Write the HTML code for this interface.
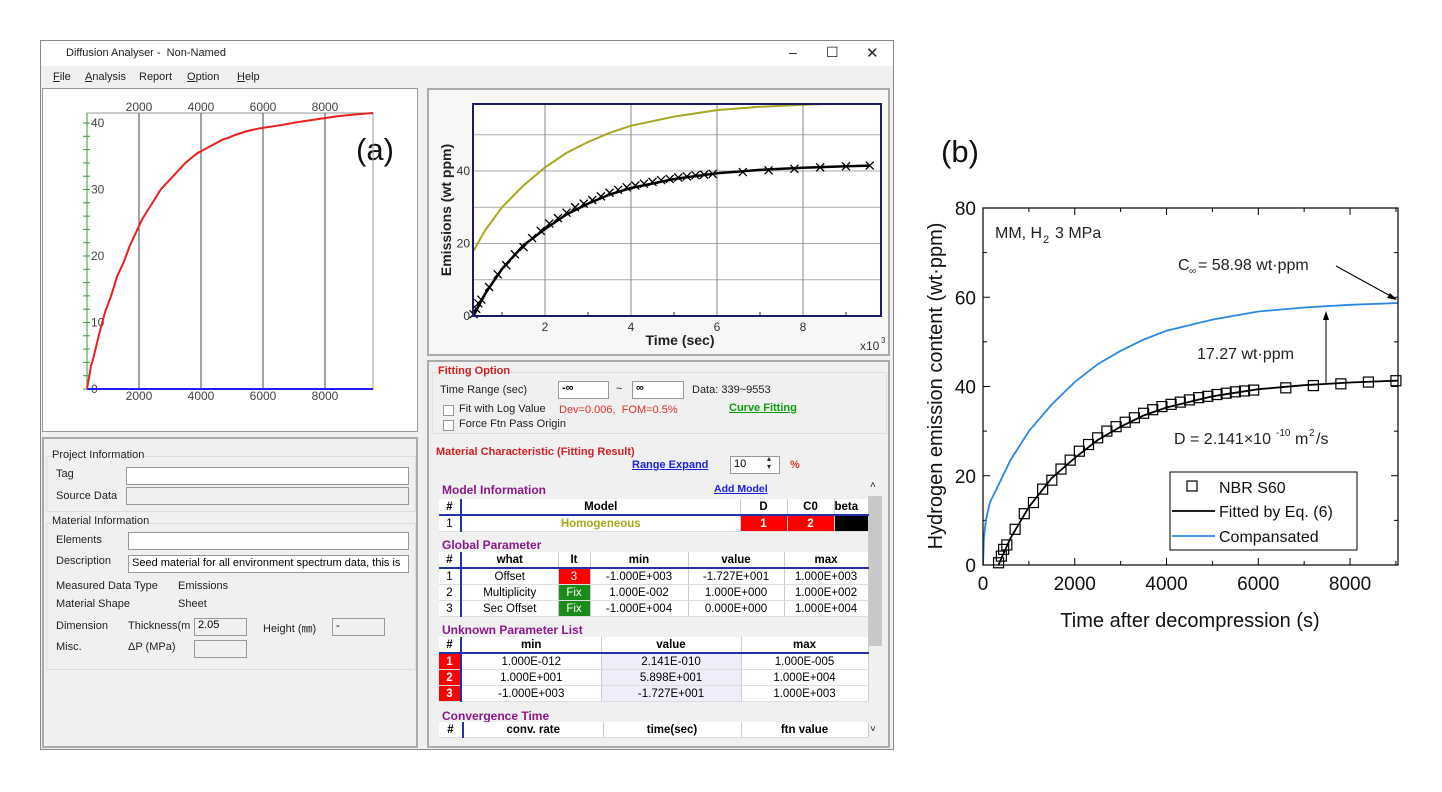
<!DOCTYPE html>
<html><head><meta charset="utf-8">
<style>
body{margin:0;width:1442px;height:792px;background:#fff;position:relative;overflow:hidden;font-family:"Liberation Sans",Arial,sans-serif;}
.a{position:absolute;}
.t{position:absolute;font-size:11px;color:#222;white-space:nowrap;}
.inp{position:absolute;background:#fff;border:1px solid #999;box-sizing:border-box;font-size:11px;padding:1px 3px;}
.gi{background:#f0f0f0;}
.grp{position:absolute;border:1px solid #ddd;box-sizing:border-box;}
table{border-collapse:collapse;position:absolute;font-size:11.5px;table-layout:fixed;}
td{padding:0;text-align:center;height:15px;border-right:1px solid #ccc;border-bottom:1px solid #ddd;background:#fff;}
.hd td{font-weight:bold;border-bottom:2px solid #2233aa;}
.sec{position:absolute;font-weight:bold;font-size:12px;color:#8a1a8a;}
</style></head><body>
<div class="a" style="left:40px;top:40px;width:854px;height:710px;border:1px solid #888;box-sizing:border-box;background:#f0f0f0;"></div>
<div class="a" style="left:41px;top:41px;width:852px;height:25px;background:#fff;"></div>
<div class="t" style="left:66px;top:47px;font-size:11px;">Diffusion Analyser -&nbsp; Non-Named</div>
<div class="t" style="left:789px;top:44px;font-size:14px;">–</div>
<div class="t" style="left:826px;top:44px;font-size:14px;">☐</div>
<div class="t" style="left:866px;top:44px;font-size:15px;">✕</div>
<div class="t" style="left:53px;top:71px;"><u>F</u>ile</div>
<div class="t" style="left:85px;top:71px;"><u>A</u>nalysis</div>
<div class="t" style="left:139px;top:71px;">Report</div>
<div class="t" style="left:187px;top:71px;"><u>O</u>ption</div>
<div class="t" style="left:237px;top:71px;"><u>H</u>elp</div>

<div class="a" style="left:42px;top:88px;width:376px;height:344px;background:#fff;border:1px solid #999;box-sizing:border-box;"></div>
<div class="a" style="left:427px;top:88px;width:463px;height:268px;background:#f7f7f7;border:2px solid #aaa;box-sizing:border-box;"></div>
<div class="a" style="left:42px;top:437px;width:376px;height:311px;border:2px solid #aaa;box-sizing:border-box;"></div>
<div class="a" style="left:427px;top:360px;width:463px;height:388px;border:2px solid #aaa;box-sizing:border-box;"></div>

<div class="grp" style="left:46px;top:456px;width:370px;height:56px;"></div>
<div class="t" style="left:52px;top:449px;background:#f0f0f0;">Project Information</div>
<div class="t" style="left:56px;top:468px;">Tag</div>
<div class="inp" style="left:126px;top:467px;width:283px;height:18px;"></div>
<div class="t" style="left:56px;top:490px;">Source Data</div>
<div class="inp gi" style="left:126px;top:487px;width:283px;height:18px;"></div>
<div class="grp" style="left:46px;top:523px;width:370px;height:147px;"></div>
<div class="t" style="left:52px;top:515px;background:#f0f0f0;">Material Information</div>
<div class="t" style="left:56px;top:534px;">Elements</div>
<div class="inp" style="left:128px;top:532px;width:281px;height:18px;"></div>
<div class="t" style="left:56px;top:555px;">Description</div>
<div class="inp" style="left:128px;top:555px;width:281px;height:18px;overflow:hidden;white-space:nowrap;">Seed material for all environment spectrum data, this is</div>
<div class="t" style="left:56px;top:580px;">Measured Data Type</div>
<div class="t" style="left:178px;top:580px;">Emissions</div>
<div class="t" style="left:56px;top:598px;">Material Shape</div>
<div class="t" style="left:178px;top:598px;">Sheet</div>
<div class="t" style="left:56px;top:620px;">Dimension</div>
<div class="t" style="left:128px;top:620px;">Thickness(m</div>
<div class="inp gi" style="left:194px;top:618px;width:53px;height:18px;padding-top:0;">2.05</div>
<div class="t" style="left:263px;top:620px;">Height (㎜)</div>
<div class="inp gi" style="left:332px;top:618px;width:53px;height:18px;">-</div>
<div class="t" style="left:56px;top:641px;">Misc.</div>
<div class="t" style="left:128px;top:641px;">ΔP (MPa)</div>
<div class="inp gi" style="left:194px;top:640px;width:53px;height:18px;"></div>

<div class="grp" style="left:432px;top:372px;width:455px;height:62px;"></div>
<div class="t" style="left:438px;top:365px;font-weight:bold;color:#d02020;background:#f0f0f0;">Fitting Option</div>
<div class="t" style="left:440px;top:384px;">Time Range (sec)</div>
<div class="inp" style="left:558px;top:381px;width:51px;height:18px;font-weight:bold;line-height:10px;">-∞</div>
<div class="t" style="left:616px;top:383px;">~</div>
<div class="inp" style="left:632px;top:381px;width:52px;height:18px;font-weight:bold;line-height:10px;">∞</div>
<div class="t" style="left:692px;top:384px;">Data: 339~9553</div>
<div class="inp" style="left:443px;top:405px;width:11px;height:11px;padding:0;"></div>
<div class="t" style="left:459px;top:403px;">Fit with Log Value</div>
<div class="t" style="left:559px;top:404px;color:#e03030;">Dev=0.006,&nbsp; FOM=0.5%</div>
<div class="t" style="left:729px;top:402px;color:#139a13;font-weight:bold;text-decoration:underline;">Curve Fitting</div>
<div class="inp" style="left:443px;top:420px;width:11px;height:11px;padding:0;"></div>
<div class="t" style="left:459px;top:418px;">Force Ftn Pass Origin</div>
<div class="t" style="left:436px;top:446px;font-weight:bold;color:#d02020;">Material Characteristic (Fitting Result)</div>
<div class="t" style="left:632px;top:459px;color:#2020e0;font-weight:bold;text-decoration:underline;">Range Expand</div>
<div class="inp" style="left:730px;top:456px;width:50px;height:18px;">10</div>
<div class="t" style="left:767px;top:455px;font-size:8px;line-height:8px;">▴<br>▾</div>
<div class="t" style="left:790px;top:459px;color:#e03030;font-weight:bold;">%</div>
<div class="a" style="left:868px;top:482px;width:14px;height:258px;background:#f0f0f0;"><div style="margin-top:14px;height:150px;background:#c8c8c8;"></div></div>
<div class="t" style="left:870px;top:480px;font-size:10px;">˄</div>
<div class="t" style="left:870px;top:724px;font-size:10px;">˅</div>

<div class="sec" style="left:442px;top:483px;">Model Information</div>
<div class="t" style="left:714px;top:483px;color:#2020e0;font-weight:bold;text-decoration:underline;font-size:10.5px;">Add Model</div>
<table style="left:439px;top:499px;width:429px;">
<colgroup><col style="width:22px"><col style="width:279px"><col style="width:47px"><col style="width:47px"><col style="width:34px"></colgroup>
<tr class="hd"><td style="border-right:2px solid #2233aa">#</td><td>Model</td><td>D</td><td>C0</td><td style="text-align:left">beta</td></tr>
<tr><td style="border-right:2px solid #2233aa">1</td><td style="color:#a8a818;font-weight:bold">Homogeneous</td><td style="background:#f00;color:#fff;font-weight:bold">1</td><td style="background:#f00;color:#fff;font-weight:bold">2</td><td style="background:#000"></td></tr>
</table>
<div class="sec" style="left:442px;top:538px;">Global Parameter</div>
<table style="left:439px;top:552px;width:429px;">
<colgroup><col style="width:22px"><col style="width:97px"><col style="width:32px"><col style="width:98px"><col style="width:96px"><col style="width:84px"></colgroup>
<tr class="hd"><td style="border-right:2px solid #2233aa">#</td><td>what</td><td>It</td><td>min</td><td>value</td><td>max</td></tr>
<tr><td style="border-right:2px solid #2233aa">1</td><td>Offset</td><td style="background:#f00;color:#fff">3</td><td>-1.000E+003</td><td>-1.727E+001</td><td>1.000E+003</td></tr>
<tr><td style="border-right:2px solid #2233aa">2</td><td>Multiplicity</td><td style="background:#1a8a1a;color:#fff">Fix</td><td>1.000E-002</td><td>1.000E+000</td><td>1.000E+002</td></tr>
<tr><td style="border-right:2px solid #2233aa">3</td><td>Sec Offset</td><td style="background:#1a8a1a;color:#fff">Fix</td><td>-1.000E+004</td><td>0.000E+000</td><td>1.000E+004</td></tr>
</table>
<div class="sec" style="left:442px;top:623px;">Unknown Parameter List</div>
<table style="left:439px;top:637px;width:429px;">
<colgroup><col style="width:22px"><col style="width:140px"><col style="width:140px"><col style="width:127px"></colgroup>
<tr class="hd"><td style="border-right:2px solid #2233aa">#</td><td>min</td><td>value</td><td>max</td></tr>
<tr><td style="background:#f00;color:#fff;font-weight:bold;border-right:2px solid #2233aa">1</td><td>1.000E-012</td><td style="background:#eeeefa">2.141E-010</td><td>1.000E-005</td></tr>
<tr><td style="background:#f00;color:#fff;font-weight:bold;border-right:2px solid #2233aa">2</td><td>1.000E+001</td><td style="background:#eeeefa">5.898E+001</td><td>1.000E+004</td></tr>
<tr><td style="background:#f00;color:#fff;font-weight:bold;border-right:2px solid #2233aa">3</td><td>-1.000E+003</td><td style="background:#eeeefa">-1.727E+001</td><td>1.000E+003</td></tr>
</table>
<div class="sec" style="left:442px;top:709px;">Convergence Time</div>
<table style="left:439px;top:722px;width:429px;">
<colgroup><col style="width:24px"><col style="width:140px"><col style="width:138px"><col style="width:127px"></colgroup>
<tr style="font-weight:bold"><td style="border-right:2px solid #2233aa">#</td><td>conv. rate</td><td>time(sec)</td><td>ftn value</td></tr>
</table>

<div class="t" style="left:356px;top:132px;font-size:31px;color:#111;">(a)</div>
<div class="t" style="left:941px;top:134px;font-size:31px;color:#111;">(b)</div>

<svg id="chart" width="1442" height="792" style="position:absolute;left:0;top:0;" font-family="Liberation Sans, Arial, sans-serif">
<defs>
<clipPath id="clipR"><rect x="473" y="104" width="408" height="212"/></clipPath>
<clipPath id="clipB"><rect x="983" y="208" width="415" height="357"/></clipPath>
</defs>
</svg>
<script>
const measTimes=[339,400,450,520,700,900,1100,1300,1500,1700,1900,2100,2300,2500,2700,2900,3100,3300,3500,3700,3900,4100,4300,4500,4700,4900,5100,5300,5500,5700,5900,6600,7200,7800,8400,9000,9553];
const measValues=[0.5,2,3.5,4.5,8,11.5,14,17,19,21.5,23.5,25.5,27,28.5,30,31,32,33,34,34.8,35.5,36,36.5,37,37.5,37.8,38.2,38.5,38.8,39,39.2,39.7,40.2,40.6,41,41.3,41.5];
const fitTimes=[339,400,600,1000,1500,2000,2500,3000,3500,4000,5000,6000,7000,8000,9000,9553];
const fitValues=[0,1.5,6,13,19.5,24,28,31,33.5,35.3,37.8,39.4,40.3,40.9,41.3,41.5];
const compTimes=[0,20,60,150,339,600,1000,1500,2000,2500,3000,3500,4000,5000,6000,7000,8000,9000,9553];
const compValues=[0,6,10,14,18,23.5,30,36,41,45,48,50.5,52.5,55,56.8,57.7,58.3,58.7,58.9];
const aTicksX=[2000,4000,6000,8000];
const aTicksY=[0,10,20,30,40];
const rTicksX=[2,4,6,8];
const rTicksY=[0,20,40];
const bTicksX=[0,2000,4000,6000,8000];
const bTicksY=[0,20,40,60,80];

const S=document.getElementById('chart');
const NS='http://www.w3.org/2000/svg';
function mk(tag,at,txt){const e=document.createElementNS(NS,tag);for(const k in at)e.setAttribute(k,at[k]);if(txt!==undefined)e.textContent=txt;S.appendChild(e);return e;}
function poly(xs,ys,fx,fy){return xs.map((t,i)=>fx(t).toFixed(1)+','+fy(ys[i]).toFixed(1)).join(' ');}

const xa=t=>77+t*0.031, ya=v=>389-v*6.65;
let e;
e=mk('rect',{x:87,y:113,width:286,height:276,fill:'none',stroke:'#999'});

aTicksX.forEach(t=>{
 e=mk('line',{x1:xa(t),x2:xa(t),y1:113,y2:389,stroke:'#444'});
 
 e=mk('text',{x:xa(t),y:111,'font-size':12,'text-anchor':'middle',fill:'#444'},t);
 
 e=mk('text',{x:xa(t),y:400,'font-size':12,'text-anchor':'middle',fill:'#444'},t);
 
});
for(let v=0;v<=40;v+=2){e=mk('line',{x1:83,x2:90,y1:ya(v),y2:ya(v),stroke:'#3a9a3a'});
 }
e=mk('line',{x1:87,x2:87,y1:113,y2:389,stroke:'#3a9a3a'});

aTicksY.forEach(v=>{e=mk('text',{x:91,y:ya(v)+4,'font-size':12,fill:'#444'},v);
 });
e=mk('line',{x1:87,x2:373,y1:389,y2:389,stroke:'#2020ff','stroke-width':2});

e=mk('polyline',{points:'87,389 '+poly(measTimes,measValues,xa,ya),fill:'none',stroke:'#e82020','stroke-width':2});


const xr=t=>459+t*43, yr=v=>316-v*3.625;
e=mk('rect',{x:473,y:104,width:408,height:212,fill:'#fff'});

[10,20,30,40,50].forEach(v=>{e=mk('line',{x1:473,x2:881,y1:yr(v),y2:yr(v),stroke:'#aaa'});
 });
rTicksX.forEach(t=>{e=mk('line',{x1:xr(t),x2:xr(t),y1:104,y2:316,stroke:'#888'});
 
 e=mk('text',{x:xr(t),y:331,'font-size':12,'text-anchor':'middle',fill:'#333'},t);
 });
for(let t=1;t<=9;t+=2){e=mk('line',{x1:xr(t),x2:xr(t),y1:312,y2:316,stroke:'#333'});
 }
rTicksY.forEach(v=>{e=mk('text',{x:470,y:yr(v)+4,'font-size':12,'text-anchor':'end',fill:'#333'},v);
 });
const ci=compTimes.indexOf(339);
e=mk('polyline',{points:poly(compTimes.slice(ci),compValues.slice(ci),t=>xr(t/1000),yr),fill:'none',stroke:'#a8a820','stroke-width':2,'clip-path':'url(#clipR)'});

e=mk('polyline',{points:poly(fitTimes,fitValues,t=>xr(t/1000),yr),fill:'none',stroke:'#000','stroke-width':2.5,'clip-path':'url(#clipR)'});

measTimes.forEach((t,i)=>{const cx=xr(t/1000),cy=yr(measValues[i]);
 e=mk('path',{d:`M${cx-4},${cy-4}L${cx+4},${cy+4}M${cx-4},${cy+4}L${cx+4},${cy-4}`,stroke:'#000','stroke-width':1.3});
 });
e=mk('rect',{x:473,y:104,width:408,height:212,fill:'none',stroke:'#1a1a6a','stroke-width':2});

e=mk('text',{x:680,y:345,'font-size':14,'font-weight':'bold','text-anchor':'middle',fill:'#222'},'Time (sec)');

e=mk('text',{x:0,y:0,'font-size':14,'font-weight':'bold','text-anchor':'middle',fill:'#222',transform:'translate(451,210) rotate(-90)'},'Emissions (wt ppm)');

e=mk('text',{x:860,y:350,'font-size':12,fill:'#333'},'x10');

mk('text',{x:881,y:343,'font-size':8,fill:'#333'},'3');

const xb=t=>983+t*0.04588, yb=v=>565-v*4.4625;
for(let t=1000;t<=9000;t+=1000){const mj=t%2000===0;
 e=mk('line',{x1:xb(t),x2:xb(t),y1:565,y2:mj?558:561,stroke:'#000'});
 e=mk('line',{x1:xb(t),x2:xb(t),y1:208,y2:mj?215:212,stroke:'#000'});}
for(let v=10;v<=70;v+=10){const mj=v%20===0;
 e=mk('line',{x1:983,x2:mj?990:987,y1:yb(v),y2:yb(v),stroke:'#000'});
 e=mk('line',{x1:1398,x2:mj?1391:1394,y1:yb(v),y2:yb(v),stroke:'#000'});}
bTicksX.forEach(t=>{e=mk('text',{x:xb(t),y:590,'font-size':19,'text-anchor':'middle',fill:'#111'},t);
 });
bTicksY.forEach(v=>{e=mk('text',{x:976,y:yb(v)+7,'font-size':19,'text-anchor':'end',fill:'#111'},v);
 });
e=mk('polyline',{points:poly(compTimes,compValues,xb,yb),fill:'none',stroke:'#2a88e0','stroke-width':1.8,'clip-path':'url(#clipB)'});

e=mk('polyline',{points:poly(fitTimes,fitValues,xb,yb),fill:'none',stroke:'#000','stroke-width':1.8,'clip-path':'url(#clipB)'});

measTimes.forEach((t,i)=>{if(t>9050)return;const cx=xb(t),cy=yb(measValues[i]);
 e=mk('rect',{x:cx-5,y:cy-5,width:10,height:10,fill:'none',stroke:'#000','stroke-width':1.2});
 });
e=mk('rect',{x:983,y:208,width:415,height:357,fill:'none',stroke:'#000','stroke-width':1.2});

e=mk('text',{x:1190,y:627,'font-size':20,'text-anchor':'middle',fill:'#111'},'Time after decompression (s)');

e=mk('text',{x:0,y:0,'font-size':20,'text-anchor':'middle',fill:'#111',transform:'translate(942,386) rotate(-90)'},'Hydrogen emission content (wt·ppm)');

e=mk('text',{x:995,y:238,'font-size':16,fill:'#222'},'MM, H');

mk('text',{x:1043,y:243,'font-size':11,fill:'#222'},'2');mk('text',{x:1055,y:238,'font-size':16,fill:'#222'},'3 MPa');
e=mk('text',{x:1178,y:270,'font-size':16,fill:'#222'},'C');

mk('text',{x:1189,y:274,'font-size':10,fill:'#222'},'∞');mk('text',{x:1198,y:270,'font-size':16,fill:'#222'},'= 58.98 wt·ppm');
e=mk('line',{x1:1336,y1:266,x2:1396,y2:299,stroke:'#000'});
mk('path',{d:'M1397,300 l-10,-2 l3,-5 z',fill:'#000'});
e=mk('text',{x:1197,y:359,'font-size':16,fill:'#222'},'17.27 wt·ppm');

e=mk('line',{x1:1326,y1:384,x2:1326,y2:316,stroke:'#000'});
mk('path',{d:'M1326,311 l-3,9 l6,0 z',fill:'#000'});
e=mk('text',{x:1174,y:444,'font-size':16,fill:'#222'},'D = 2.141×10');

mk('text',{x:1276,y:436,'font-size':10,fill:'#222'},'-10');mk('text',{x:1295,y:444,'font-size':16,fill:'#222'},'m');
mk('text',{x:1309,y:436,'font-size':10,fill:'#222'},'2');mk('text',{x:1316,y:444,'font-size':16,fill:'#222'},'/s');
e=mk('rect',{x:1170,y:472,width:187,height:78,fill:'#fff',stroke:'#000'});

e=mk('rect',{x:1187,y:481,width:10,height:10,fill:'none',stroke:'#000','stroke-width':1.2});

mk('text',{x:1219,y:493,'font-size':16,fill:'#111'},'NBR S60');
e=mk('line',{x1:1172,x2:1215,y1:511,y2:511,stroke:'#000','stroke-width':1.8});

mk('text',{x:1219,y:517,'font-size':16,fill:'#111'},'Fitted by Eq. (6)');
e=mk('line',{x1:1172,x2:1215,y1:536,y2:536,stroke:'#2a88e0','stroke-width':1.8});

mk('text',{x:1219,y:542,'font-size':16,fill:'#111'},'Compansated');
</script>
</body></html>
